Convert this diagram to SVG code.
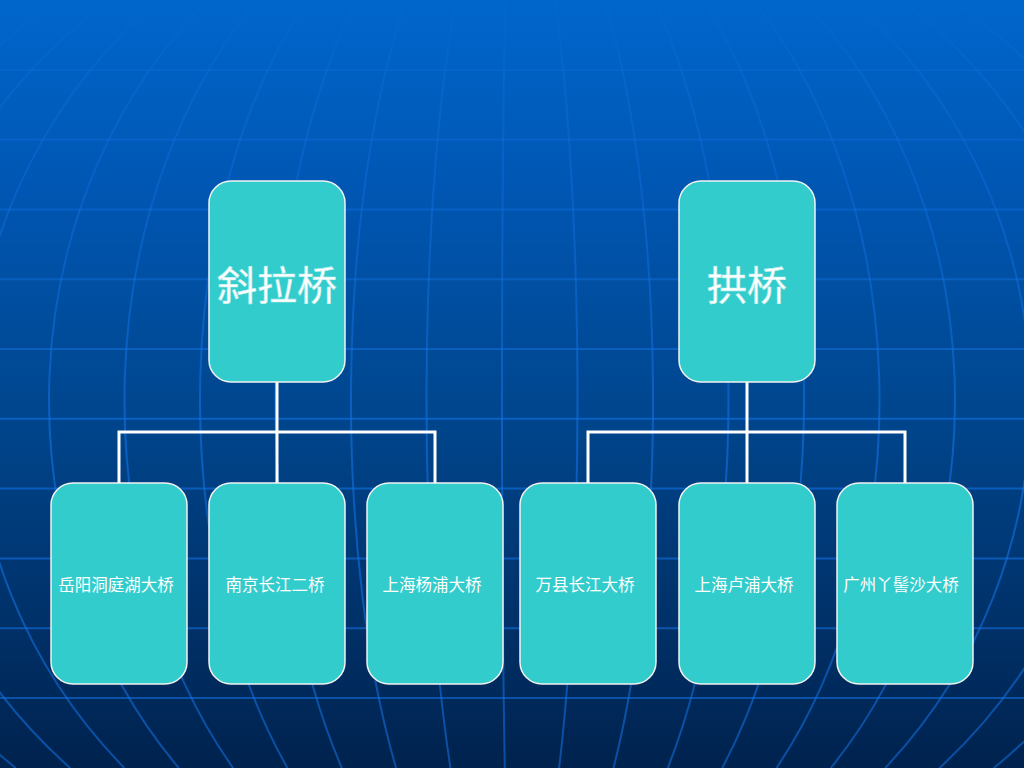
<svg xmlns="http://www.w3.org/2000/svg" width="1024" height="768" viewBox="0 0 1024 768">
  <defs>
    <linearGradient id="bg" x1="0" y1="0" x2="0" y2="1">
      <stop offset="0" stop-color="#0066cc"/>
      <stop offset="0.25" stop-color="#0056b2"/>
      <stop offset="0.55" stop-color="#00458c"/>
      <stop offset="1" stop-color="#00224e"/>
    </linearGradient>
    <linearGradient id="gridStroke" gradientUnits="userSpaceOnUse" x1="0" y1="0" x2="0" y2="768">
      <stop offset="0" stop-color="#1272e4" stop-opacity="0.05"/>
      <stop offset="0.1" stop-color="#1272e4" stop-opacity="0.3"/>
      <stop offset="0.35" stop-color="#1272e4" stop-opacity="0.45"/>
      <stop offset="0.55" stop-color="#1272e4" stop-opacity="0.6"/>
      <stop offset="1" stop-color="#1272e4" stop-opacity="0.55"/>
    </linearGradient>
  </defs>
  <style>
    .grid { fill: none; stroke: url(#gridStroke); stroke-width: 2; }
    .box { fill: #33cccc; stroke: #f2f2f2; stroke-width: 1.5; }
    .conn { fill: none; stroke: #ffffff; stroke-width: 3; }
    .big { font-family: "Noto Sans CJK SC", "Noto Sans", sans-serif; font-size: 40px; fill: #ffffff; stroke: #bfeeee; stroke-width: 0.6; text-anchor: middle; }
    .small { font-family: "Noto Sans CJK SC", "Noto Sans", sans-serif; font-size: 16.5px; fill: #ffffff; text-anchor: middle; }
  </style>

  <rect x="0" y="0" width="1024" height="768" fill="url(#bg)"/>

  <g id="background-grid">
    <path class="grid" d="M0 70H1024M0 139.6H1024M0 209.4H1024M0 279.2H1024M0 349H1024M0 418.8H1024M0 488.6H1024M0 558.4H1024M0 628.2H1024M0 698H1024"/>
    <path class="grid" d="M10.2 0A765 530 0 0 0 -38.6 768"/>
    <path class="grid" d="M59.7 0A689.5 530 0 0 0 15.8 768"/>
    <path class="grid" d="M109.2 0A614 530 0 0 0 70.1 768"/>
    <path class="grid" d="M158.7 0A538.5 530 0 0 0 124.4 768"/>
    <path class="grid" d="M208.3 0A463 530 0 0 0 178.8 768"/>
    <path class="grid" d="M257.8 0A387.5 530 0 0 0 233.1 768"/>
    <path class="grid" d="M307.3 0A312 530 0 0 0 287.5 768"/>
    <path class="grid" d="M356.9 0A236.5 530 0 0 0 341.8 768"/>
    <path class="grid" d="M406.4 0A161 530 0 0 0 396.1 768"/>
    <path class="grid" d="M455.9 0A85.5 530 0 0 0 450.5 768"/>
    <path class="grid" d="M505.4 0A10 530 0 0 0 504.8 768"/>
    <path class="grid" d="M555 0A65.5 530 0 0 1 559.1 768"/>
    <path class="grid" d="M604.5 0A141 530 0 0 1 613.5 768"/>
    <path class="grid" d="M654 0A216.5 530 0 0 1 667.8 768"/>
    <path class="grid" d="M703.6 0A292 530 0 0 1 722.2 768"/>
    <path class="grid" d="M753.1 0A367.5 530 0 0 1 776.5 768"/>
    <path class="grid" d="M802.6 0A443 530 0 0 1 830.8 768"/>
    <path class="grid" d="M852.1 0A518.5 530 0 0 1 885.2 768"/>
    <path class="grid" d="M901.7 0A594 530 0 0 1 939.5 768"/>
    <path class="grid" d="M951.2 0A669.5 530 0 0 1 993.8 768"/>
    <path class="grid" d="M1000.7 0A745 530 0 0 1 1048.2 768"/>
  </g>

  <g id="connectors">
    <path class="conn" d="M277 382V432M119 483V432H435V483M277 432V483"/>
    <path class="conn" d="M747 382V432M588 483V432H905V483M747 432V483"/>
  </g>

  <g id="node-xielaqiao">
    <rect class="box" x="209" y="181" width="136" height="201" rx="22" ry="22"/>
    <text class="big" x="277" y="300">斜拉桥</text>
  </g>
  <g id="node-gongqiao">
    <rect class="box" x="679" y="181" width="136" height="201" rx="22" ry="22"/>
    <text class="big" x="747" y="300">拱桥</text>
  </g>

  <g id="node-yueyang">
    <rect class="box" x="51" y="483" width="136" height="201" rx="22" ry="22"/>
    <text class="small" x="116" y="591">岳阳洞庭湖大桥</text>
  </g>
  <g id="node-nanjing">
    <rect class="box" x="209" y="483" width="136" height="201" rx="22" ry="22"/>
    <text class="small" x="275" y="591">南京长江二桥</text>
  </g>
  <g id="node-yangpu">
    <rect class="box" x="367" y="483" width="136" height="201" rx="22" ry="22"/>
    <text class="small" x="432" y="591">上海杨浦大桥</text>
  </g>
  <g id="node-wanxian">
    <rect class="box" x="520" y="483" width="136" height="201" rx="22" ry="22"/>
    <text class="small" x="585" y="591">万县长江大桥</text>
  </g>
  <g id="node-lupu">
    <rect class="box" x="679" y="483" width="136" height="201" rx="22" ry="22"/>
    <text class="small" x="744" y="591">上海卢浦大桥</text>
  </g>
  <g id="node-yajisha">
    <rect class="box" x="837" y="483" width="136" height="201" rx="22" ry="22"/>
    <text class="small" x="901" y="591">广州丫髻沙大桥</text>
  </g>
</svg>
